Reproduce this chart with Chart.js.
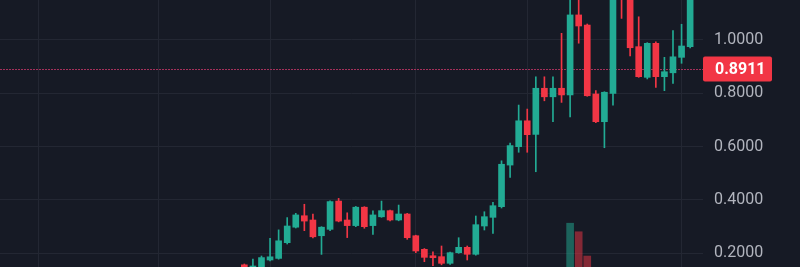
<!DOCTYPE html>
<html><head><meta charset="utf-8">
<script src="https://cdn.jsdelivr.net/npm/chart.js@4"></script>
<style>html,body{margin:0;padding:0;background:#161a25;overflow:hidden}</style>
</head><body>
<canvas id="c" width="800" height="267"></canvas>
<script>
// ---- data ----
const opens  = [0.157,0.140,0.148,0.175,0.181,0.240,0.298,0.341,0.325,0.266,0.290,0.396,0.325,0.304,0.373,0.304,0.337,0.360,0.325,0.3475,0.266,0.215,0.191,0.1875,0.1626,0.2024,0.2226,0.1964,0.3025,0.335,0.375,0.531,0.600,0.697,0.646,0.819,0.787,0.819,0.794,1.094,1.056,0.7975,0.6936,0.800,1.28,1.22,0.975,0.860,0.9876,0.8624,0.877,0.935,0.975];
const highs  = [0.160,0.178,0.190,0.256,0.288,0.334,0.350,0.384,0.3475,0.300,0.397,0.406,0.352,0.376,0.375,0.359,0.396,0.362,0.381,0.350,0.268,0.218,0.206,0.2275,0.205,0.2586,0.2275,0.340,0.356,0.391,0.547,0.613,0.756,0.741,0.862,0.862,0.862,1.025,1.20,1.20,1.06,0.810,0.806,1.32,1.35,1.25,1.087,0.990,0.9936,0.935,1.035,1.059,1.22];
const lows   = [0.130,0.135,0.140,0.172,0.178,0.235,0.295,0.285,0.258,0.196,0.285,0.318,0.259,0.300,0.294,0.271,0.335,0.322,0.322,0.2526,0.2024,0.1686,0.1536,0.157,0.158,0.200,0.175,0.193,0.2875,0.275,0.370,0.485,0.579,0.579,0.506,0.772,0.694,0.766,0.712,0.988,0.789,0.690,0.596,0.756,1.081,0.940,0.860,0.854,0.8226,0.810,0.8376,0.9126,0.970];
const closes = [0.140,0.1525,0.184,0.187,0.247,0.3025,0.344,0.321,0.262,0.298,0.394,0.321,0.304,0.373,0.300,0.344,0.360,0.325,0.3475,0.2586,0.2088,0.185,0.1836,0.1626,0.2024,0.2226,0.1964,0.3074,0.3374,0.3786,0.534,0.604,0.697,0.645,0.819,0.787,0.819,0.794,1.094,1.0525,0.791,0.6936,0.804,1.28,1.22,0.971,0.8624,0.9876,0.8624,0.881,0.937,0.9775,1.20];
const volumes = [null,null,null,null,null,null,null,null,null,null,null,null,null,null,null,null,null,null,null,null,null,null,null,null,null,null,null,null,null,null,null,null,null,null,null,null,null,null,16.4,13.2,4.1,null,null,null,null,null,null,null,null,null,null,null,null];
const leadingEmpty = 28;   // empty time slots before the first visible candle
const trailingEmpty = 1;   // empty slot after the last candle
const categories = Array.from({length: leadingEmpty + opens.length + trailingEmpty}, (_, i) => 'P' + (i + 1));
const periodStarts = ['P5','P19','P32','P49','P62','P80']; // categories where a time grid line falls
const yTicks = [0.2, 0.4, 0.6, 0.8, 1.0];
const lastPrice = 0.8911;

// ---- styles ----
const BG = '#161a25', GRID = '#232733', GREEN = '#22ab94', RED = '#f23645';
const GREEN_V = 'rgba(34,171,148,0.5)', RED_V = 'rgba(242,54,69,0.5)';

const pad = a => [...Array(leadingEmpty).fill(null), ...a, ...Array(trailingEmpty).fill(null)];
const up = opens.map((o, i) => closes[i] >= o);
const bodyData = pad(opens.map((o, i) => [Math.min(o, closes[i]), Math.max(o, closes[i])]));
const wickData = pad(lows.map((l, i) => [l, highs[i]]));
const colors = pad(up.map(u => u ? GREEN : RED)).map(c => c || GREEN);
const volColors = pad(up.map(u => u ? GREEN_V : RED_V)).map(c => c || GREEN_V);

const pricePlugin = {
  id: 'price',
  beforeDraw(chart) {
    const {ctx, width, height} = chart;
    ctx.save(); ctx.fillStyle = BG; ctx.fillRect(0, 0, width, height); ctx.restore();
  },
  beforeDatasetsDraw(chart) {
    const {ctx, chartArea} = chart;
    const y = Math.round(chart.scales.y.getPixelForValue(lastPrice)) + 0.5;
    ctx.save();
    ctx.strokeStyle = '#a3305a';
    ctx.lineWidth = 1;
    ctx.setLineDash([2, 1]);
    ctx.beginPath(); ctx.moveTo(chartArea.left, y); ctx.lineTo(chartArea.right, y); ctx.stroke();
    ctx.restore();
  },
  afterDraw(chart) {
    const {ctx, chartArea} = chart;
    const y = chart.scales.y.getPixelForValue(lastPrice);
    ctx.save();
    ctx.fillStyle = RED;
    ctx.beginPath();
    ctx.roundRect(chartArea.right, Math.round(y) - 12.5, 69, 25, 2);
    ctx.fill();
    ctx.fillStyle = '#ffffff';
    ctx.font = 'bold 16px Roboto';
    ctx.textAlign = 'left';
    ctx.textBaseline = 'middle';
    ctx.fillText(lastPrice.toFixed(4), chartArea.right + 12, y + 1);
    ctx.restore();
  }
};

new Chart(document.getElementById('c'), {
  type: 'bar',
  data: {
    labels: categories,
    datasets: [
      { label: 'body', data: bodyData, backgroundColor: colors, barThickness: 6, grouped: false, order: 1, borderWidth: 0, yAxisID: 'y' },
      { label: 'wick', data: wickData, backgroundColor: colors, barThickness: 1, grouped: false, order: 2, borderWidth: 0, yAxisID: 'y' },
      { label: 'volume', data: pad(volumes), backgroundColor: volColors, barThickness: 7, grouped: false, order: 3, borderWidth: 0, yAxisID: 'yv' }
    ]
  },
  options: {
    responsive: false,
    animation: false,
    layout: { padding: 0 },
    plugins: { legend: { display: false }, tooltip: { enabled: false } },
    scales: {
      x: {
        type: 'category',
        offset: true,
        grid: { offset: false, drawTicks: false, color: ctx => periodStarts.includes(categories[ctx.index]) ? GRID : 'rgba(0,0,0,0)' },
        ticks: { display: false, autoSkip: false },
        border: { display: false },
        afterFit: s => { s.height = 0; s.paddingLeft = 0; s.paddingRight = 0; }
      },
      y: {
        position: 'right',
        min: 0.14875,
        max: 1.15,
        afterBuildTicks: s => { s.ticks = yTicks.map(v => ({ value: v })); },
        ticks: { color: '#b2b5be', font: { family: 'Roboto', size: 16 }, padding: 11, callback: v => Number(v).toFixed(4) },
        grid: { color: GRID, drawTicks: false },
        border: { display: false },
        afterFit: s => { s.width = 97; s.paddingTop = 0; s.paddingBottom = 0; }
      },
      yv: { display: false, min: 0, max: 100 }
    }
  },
  plugins: [pricePlugin]
});
</script>
</body></html>
